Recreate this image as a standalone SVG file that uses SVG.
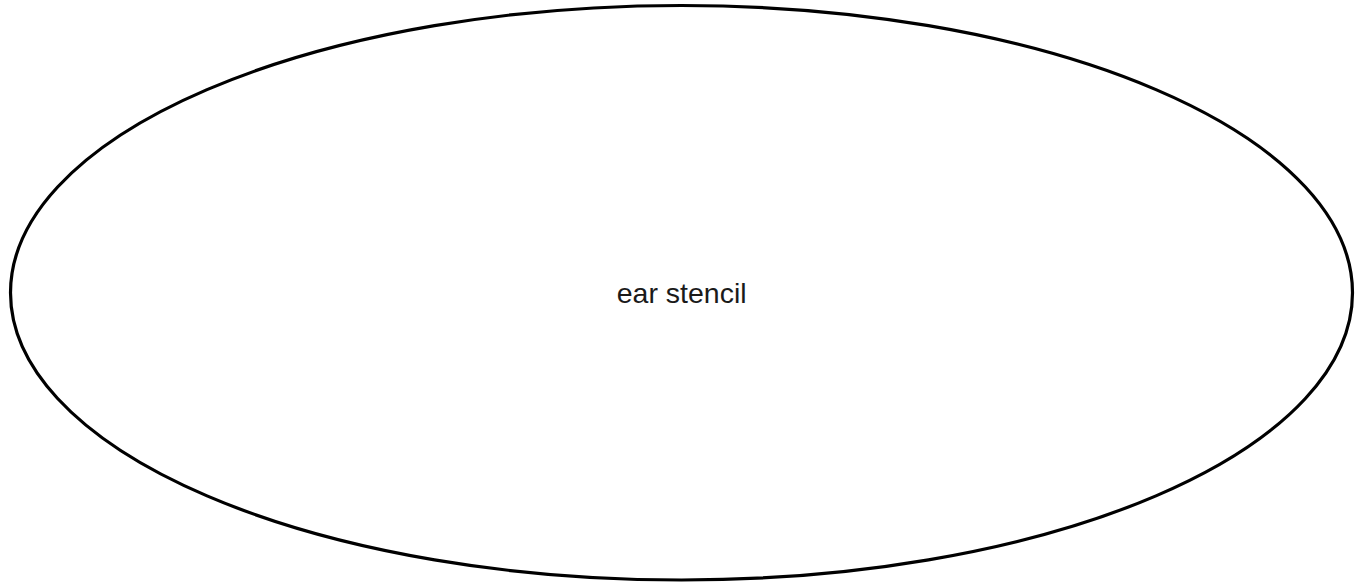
<svg xmlns="http://www.w3.org/2000/svg" width="1358" height="585" viewBox="0 0 1358 585">
<style>
.node-shape{fill:#ffffff;stroke:#000000;stroke-width:3.2}
.node-label{font-family:"Liberation Sans",Arial,sans-serif;font-size:28.5px;fill:#1a1a1a;text-anchor:middle}
</style>
<rect width="1358" height="585" fill="#ffffff"/>
<g id="connectors"></g>
<g id="node-ear-stencil">
<ellipse class="node-shape" cx="681.5" cy="292.75" rx="671" ry="287.25"/>
<text class="node-label" x="681.7" y="302.7">ear stencil</text>
</g>
</svg>
